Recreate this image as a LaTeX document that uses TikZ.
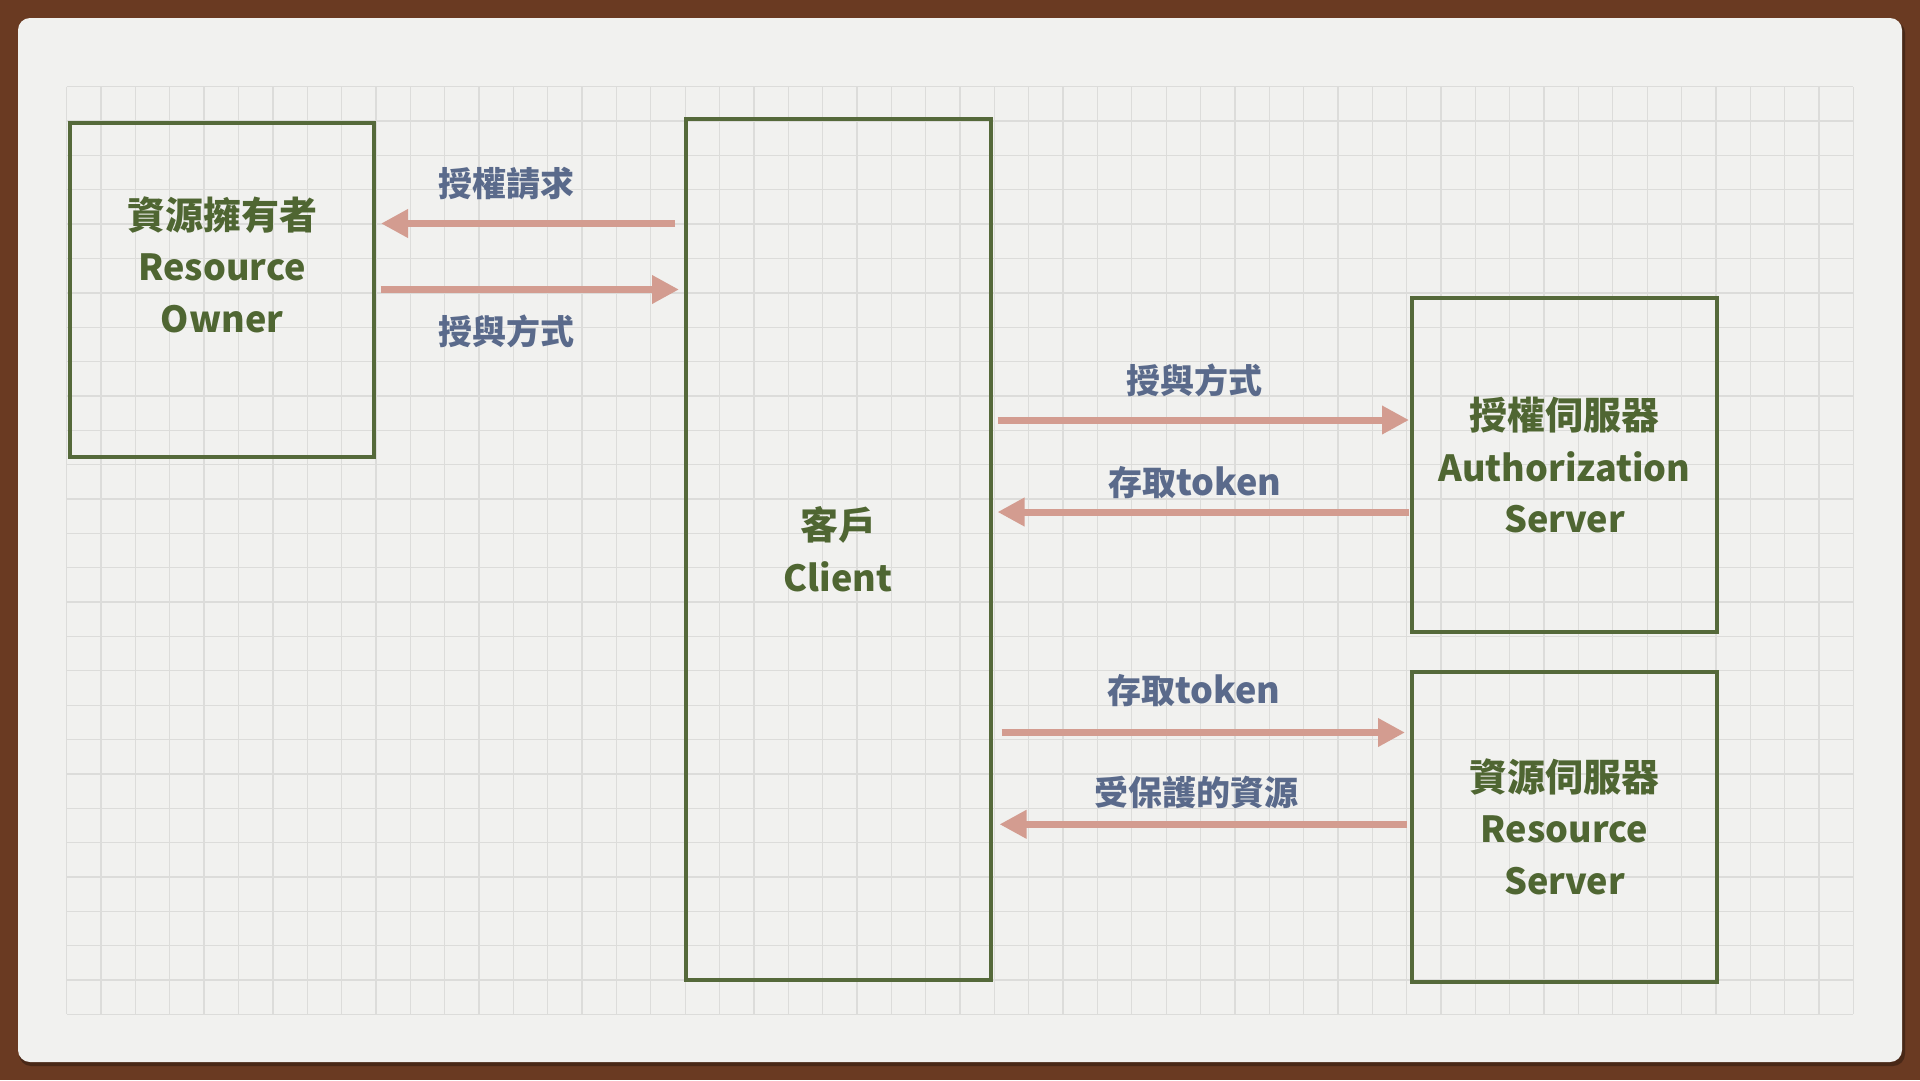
\documentclass[tikz,border=0pt]{standalone}
\usepackage{fontspec}
\newfontfamily\cjk{Noto Sans CJK TC}
\usetikzlibrary{arrows.meta,calc}
\newcommand\zhtxt[1]{{\cjk\bfseries #1}}
\newcommand\entxt[1]{{\cjk\bfseries #1}}
\definecolor{bgbrown}{HTML}{6A3A22}
\definecolor{paper}{HTML}{F1F1EF}
\definecolor{gridc}{HTML}{DCDCDA}
\definecolor{boxgreen}{HTML}{55693A}
\definecolor{txtgreen}{HTML}{4F6632}
\definecolor{lblblue}{HTML}{5A6A8B}
\definecolor{arrpink}{HTML}{D39C90}
\tikzset{
  box/.style={draw=boxgreen, line width=4pt, inner sep=0pt, outer sep=0pt, fill=none},
  boxtext/.style={text=txtgreen, align=center, inner sep=0pt, font=\fontsize{36}{51.5}\selectfont},
  lbl/.style={text=lblblue, inner sep=0pt, font=\fontsize{34}{40}\selectfont},
  arr/.style={draw=arrpink, line width=7pt, -{Triangle[length=27pt,width=27pt]}},
  gridline/.style={draw=gridc, line width=1.3pt}
}
\begin{document}
\begin{tikzpicture}[x=1pt,y=-1pt]
\useasboundingbox (0,0) rectangle (1920,1080);
% background frame and paper
\fill[bgbrown] (0,0) rectangle (1920,1080);
\fill[black,opacity=0.3,rounded corners=12] (19,21) rectangle (1905,1066);
\fill[paper,rounded corners=12] (18,18) rectangle (1902,1062);
% grid
\foreach \i in {0,...,52} \draw[gridline] (66.7+\i*34.358,86.7) -- ++(0,927.6);
\foreach \j in {0,...,27} \draw[gridline] (66.7,86.7+\j*34.358) -- ++(1786.6,0);
% boxes
\node[box, minimum width=304pt, minimum height=334pt] (owner) at (222,289.5) {};
\node[box, minimum width=304.5pt, minimum height=861.5pt] (client) at (838.25,549.25) {};
\node[box, minimum width=305pt, minimum height=334pt] (auth) at (1564.5,465) {};
\node[box, minimum width=305pt, minimum height=310pt] (rs) at (1564.5,826.5) {};
% box texts
\node[boxtext] (ownertxt) at ($(owner.center)+(0,-25)$) {{\fontsize{38}{51.5}\selectfont\zhtxt{資源擁有者}}\\\entxt{Resource}\\\entxt{Owner}};
\node[boxtext] (clienttxt) at (client.center) {{\fontsize{38}{51.5}\selectfont\zhtxt{客戶}}\\\entxt{Client}};
\node[boxtext] (authtxt) at (auth.center) {{\fontsize{38}{51.5}\selectfont\zhtxt{授權伺服器}}\\\entxt{Authorization}\\\entxt{Server}};
\node[boxtext] (rstxt) at (rs.center) {{\fontsize{38}{51.5}\selectfont\zhtxt{資源伺服器}}\\\entxt{Resource}\\\entxt{Server}};
% arrow levels
\coordinate (a1) at (0,223.5);
\coordinate (a2) at (0,289.5);
\coordinate (a3) at (0,420);
\coordinate (a4) at (0,512);
\coordinate (a5) at (0,732.5);
\coordinate (a6) at (0,824.3);
% arrows
\draw[arr, shorten <=11pt, shorten >=7pt] (client.west |- a1) -- (owner.east |- a1);
\draw[arr, shorten <=6.5pt, shorten >=7pt] (owner.east |- a2) -- (client.west |- a2);
\draw[arr, shorten <=7pt, shorten >=3pt] (client.east |- a3) -- (auth.west |- a3);
\draw[arr, shorten <=3pt, shorten >=7pt] (auth.west |- a4) -- (client.east |- a4);
\draw[arr, shorten <=11pt, shorten >=7pt] (client.east |- a5) -- (rs.west |- a5);
\draw[arr, shorten <=5pt, shorten >=9pt] (rs.west |- a6) -- (client.east |- a6);
% labels
\node[lbl] (l1) at (506,183.5) {\zhtxt{授權請求}};
\node[lbl] (l2) at (506,331.7) {\zhtxt{授與方式}};
\node[lbl] (l3) at (1194,380.5) {\zhtxt{授與方式}};
\node[lbl] (l4) at (1195,482.5) {\zhtxt{存取}{\fontsize{36}{40}\selectfont\entxt{token}}};
\node[lbl] (l5) at (1194,691) {\zhtxt{存取}{\fontsize{36}{40}\selectfont\entxt{token}}};
\node[lbl] (l6) at (1196.5,792) {\zhtxt{受保護的資源}};
\end{tikzpicture}
\end{document}
